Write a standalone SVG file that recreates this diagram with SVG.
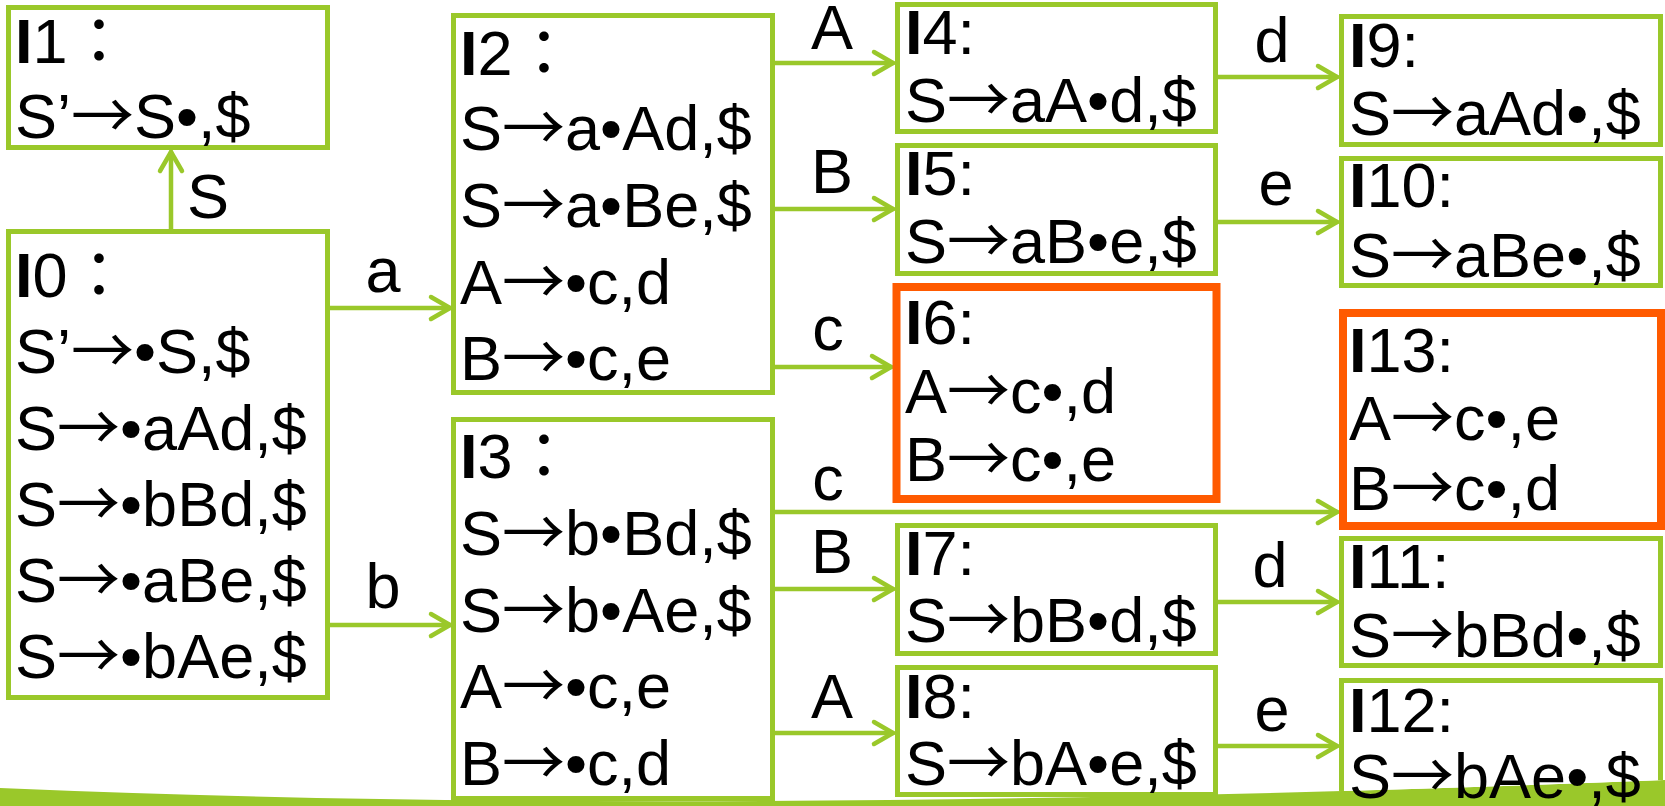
<svg xmlns="http://www.w3.org/2000/svg" width="1665" height="806" viewBox="0 0 1665 806">
<style>
text{font-family:"Liberation Sans","Noto Sans CJK JP",sans-serif;font-size:63px;fill:#000}
.b{font-weight:bold}
.r{font-family:"Noto Sans CJK JP","Liberation Sans",sans-serif}
.g{fill:#fff;stroke:#9AC82A;stroke-width:5}
.o{fill:#fff;stroke:#FF5A00;stroke-width:8}
.c{fill:none;stroke:#9AC82A;stroke-width:4.5;stroke-linecap:round;marker-end:url(#ah)}
.l{text-anchor:middle}
</style>
<defs>
<marker id="ah" markerUnits="userSpaceOnUse" markerWidth="30" markerHeight="30" viewBox="-25 -15 30 30" refX="0" refY="0" orient="auto" overflow="visible">
<path d="M-19,-11 L0,0 L-19,11" fill="none" stroke="#9AC82A" stroke-width="4.5" stroke-linecap="round" stroke-linejoin="round"/>
</marker>
<clipPath id="above"><path d="M0,0 H1665 V780 Q700,818 0,788 Z"/></clipPath>
</defs>
<path id="band" d="M0,788 Q700,818 1665,780 L1665,806 L0,806 Z" fill="#9AC82A"/>
<g id="connectors">
<path class="c" d="M171,229 V152"/>
<path class="c" d="M330,308 H450"/>
<path class="c" d="M330,625 H450"/>
<path class="c" d="M775,63 H893"/>
<path class="c" d="M775,209 H893"/>
<path class="c" d="M775,367 H891"/>
<path class="c" d="M775,512 H1337"/>
<path class="c" d="M775,589 H893"/>
<path class="c" d="M775,733 H893"/>
<path class="c" d="M1218,77 H1337"/>
<path class="c" d="M1218,222 H1337"/>
<path class="c" d="M1218,602 H1337"/>
<path class="c" d="M1218,746 H1337"/>
<text x="208" y="218" class="l">S</text>
<text x="383" y="292" class="l">a</text>
<text x="383" y="608" class="l">b</text>
<text x="832" y="49" class="l">A</text>
<text x="832" y="193" class="l">B</text>
<text x="828" y="350" class="l">c</text>
<text x="828" y="500" class="l">c</text>
<text x="832" y="573" class="l">B</text>
<text x="832" y="718" class="l">A</text>
<text x="1272" y="62" class="l">d</text>
<text x="1276" y="205" class="l">e</text>
<text x="1270" y="587" class="l">d</text>
<text x="1272" y="731" class="l">e</text>
</g>
<g id="I1">
<rect class="g" x="8.5" y="7.5" width="319" height="140"/>
<text x="15" y="63"><tspan class="b">I</tspan>1：</text>
<text x="15" y="138">S’<tspan class="r">→</tspan>S•,$</text>
</g>
<g id="I0">
<rect class="g" x="8.5" y="231.5" width="319" height="466"/>
<text x="15" y="297"><tspan class="b">I</tspan>0：</text>
<text x="15" y="373">S’<tspan class="r">→</tspan>•S,$</text>
<text x="15" y="450">S<tspan class="r">→</tspan>•aAd,$</text>
<text x="15" y="526">S<tspan class="r">→</tspan>•bBd,$</text>
<text x="15" y="602">S<tspan class="r">→</tspan>•aBe,$</text>
<text x="15" y="678">S<tspan class="r">→</tspan>•bAe,$</text>
</g>
<g id="I2">
<rect class="g" x="453.5" y="15.5" width="319" height="377"/>
<text x="460" y="75"><tspan class="b">I</tspan>2：</text>
<text x="460" y="150">S<tspan class="r">→</tspan>a•Ad,$</text>
<text x="460" y="227">S<tspan class="r">→</tspan>a•Be,$</text>
<text x="460" y="304">A<tspan class="r">→</tspan>•c,d</text>
<text x="460" y="380">B<tspan class="r">→</tspan>•c,e</text>
</g>
<g id="I3">
<rect class="g" x="453.5" y="419.5" width="319" height="379"/>
<text x="460" y="478"><tspan class="b">I</tspan>3：</text>
<text x="460" y="555">S<tspan class="r">→</tspan>b•Bd,$</text>
<text x="460" y="632">S<tspan class="r">→</tspan>b•Ae,$</text>
<text x="460" y="708">A<tspan class="r">→</tspan>•c,e</text>
<text x="460" y="785">B<tspan class="r">→</tspan>•c,d</text>
</g>
<g id="I4">
<rect class="g" x="897.5" y="4.5" width="318" height="127"/>
<text x="905" y="54"><tspan class="b">I</tspan>4:</text>
<text x="905" y="122">S<tspan class="r">→</tspan>aA•d,$</text>
</g>
<g id="I5">
<rect class="g" x="897.5" y="145.5" width="318" height="128"/>
<text x="905" y="195"><tspan class="b">I</tspan>5:</text>
<text x="905" y="263">S<tspan class="r">→</tspan>aB•e,$</text>
</g>
<g id="I6">
<rect class="o" x="896.5" y="287" width="320" height="212"/>
<text x="905" y="344"><tspan class="b">I</tspan>6:</text>
<text x="905" y="413">A<tspan class="r">→</tspan>c•,d</text>
<text x="905" y="481">B<tspan class="r">→</tspan>c•,e</text>
</g>
<g id="I7">
<rect class="g" x="897.5" y="525.5" width="318" height="128"/>
<text x="905" y="575"><tspan class="b">I</tspan>7:</text>
<text x="905" y="642">S<tspan class="r">→</tspan>bB•d,$</text>
</g>
<g id="I8">
<rect class="g" x="897.5" y="667.5" width="318" height="127"/>
<text x="905" y="718"><tspan class="b">I</tspan>8:</text>
<text x="905" y="785">S<tspan class="r">→</tspan>bA•e,$</text>
</g>
<g id="I9">
<rect class="g" x="1341.5" y="16.5" width="319" height="128"/>
<text x="1349" y="67"><tspan class="b">I</tspan>9:</text>
<text x="1349" y="135">S<tspan class="r">→</tspan>aAd•,$</text>
</g>
<g id="I10">
<rect class="g" x="1341.5" y="158.5" width="319" height="127"/>
<text x="1349" y="207"><tspan class="b">I</tspan>10:</text>
<text x="1349" y="277">S<tspan class="r">→</tspan>aBe•,$</text>
</g>
<g id="I13">
<rect class="o" x="1343" y="313" width="318" height="213"/>
<text x="1349" y="372"><tspan class="b">I</tspan>13:</text>
<text x="1349" y="440">A<tspan class="r">→</tspan>c•,e</text>
<text x="1349" y="510">B<tspan class="r">→</tspan>c•,d</text>
</g>
<g id="I11">
<rect class="g" x="1341.5" y="538.5" width="319" height="127"/>
<text x="1349" y="588"><tspan class="b">I</tspan>11:</text>
<text x="1349" y="657">S<tspan class="r">→</tspan>bBd•,$</text>
</g>
<g id="I12">
<rect class="g" x="1341.5" y="680.5" width="319" height="140" clip-path="url(#above)"/>
<text x="1349" y="732"><tspan class="b">I</tspan>12:</text>
<text x="1349" y="798">S<tspan class="r">→</tspan>bAe•,$</text>
</g>
</svg>
